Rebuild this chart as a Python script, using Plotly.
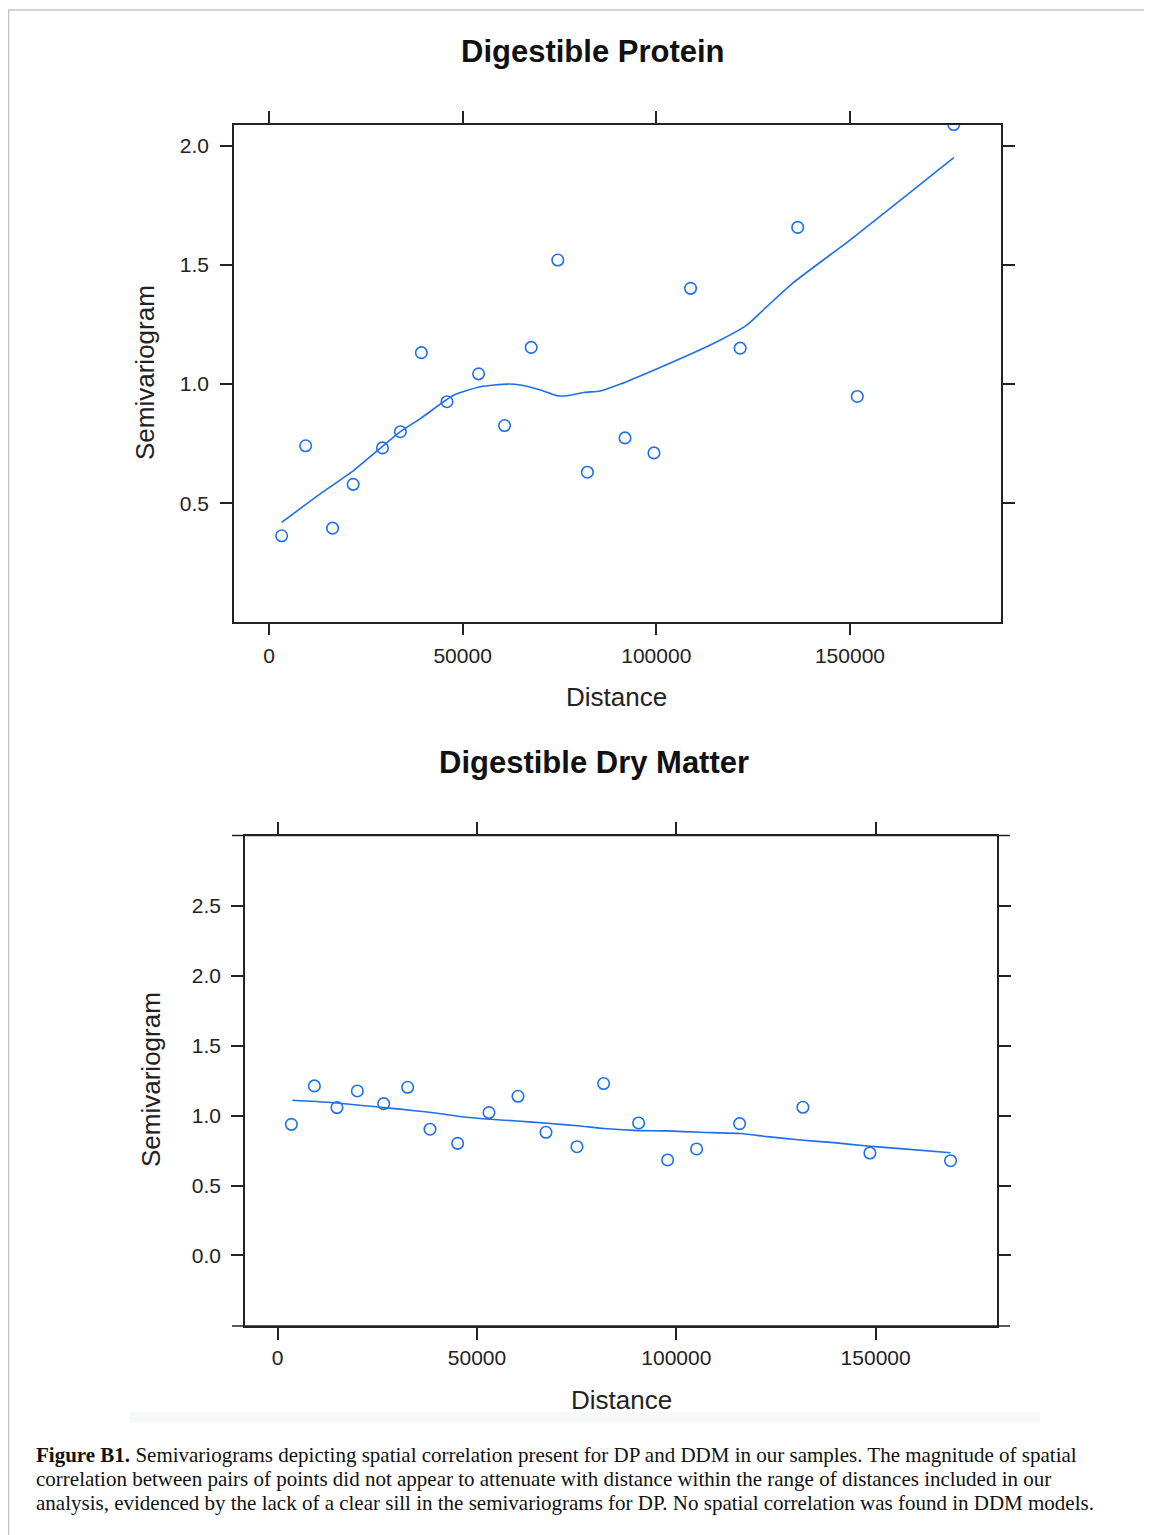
import plotly.graph_objects as go

# ---------------- data ----------------
dp_dist = [3273, 9459, 16418, 21735, 29296, 33935, 39347, 45962, 54124, 60825,
           67698, 74570, 82216, 91924, 99398, 108849, 121649, 136512, 151890, 176804]
dp_gamma = [0.363, 0.741, 0.395, 0.579, 0.732, 0.800, 1.132, 0.926, 1.043, 0.826,
            1.154, 1.521, 0.630, 0.774, 0.711, 1.402, 1.151, 1.658, 0.948, 2.09]
dp_fit_dist = [3273, 13402, 21993, 33935, 39175, 47766, 54639, 61500, 64948, 70103,
               74400, 76976, 81270, 85567, 90722, 98454, 107903, 115636, 123368,
               128522, 135395, 150000, 162887, 176804]
dp_fit_gamma = [0.419, 0.541, 0.639, 0.800, 0.856, 0.954, 0.989, 1.000, 0.996, 0.975,
                0.951, 0.951, 0.965, 0.971, 1.000, 1.052, 1.119, 1.178, 1.248,
                1.325, 1.426, 1.605, 1.770, 1.951]

ddm_dist = [3436, 9205, 14873, 19982, 26586, 32606, 38205, 45147, 53007, 60283,
            67306, 75077, 81766, 90544, 97818, 105091, 115877, 131757, 148561, 168797]
ddm_gamma = [0.938, 1.213, 1.058, 1.177, 1.086, 1.203, 0.903, 0.802, 1.022, 1.139,
             0.881, 0.778, 1.230, 0.948, 0.683, 0.762, 0.943, 1.060, 0.733, 0.678]
ddm_fit_dist = [3687, 13293, 26662, 35022, 40038, 46727, 53423, 60110, 67645, 75998,
                81850, 89366, 97743, 106104, 116136, 122824, 131184, 139545, 147905,
                156266, 168797]
ddm_fit_gamma = [1.110, 1.094, 1.058, 1.034, 1.017, 0.991, 0.974, 0.962, 0.946, 0.926,
                 0.908, 0.895, 0.891, 0.881, 0.872, 0.850, 0.826, 0.807, 0.783,
                 0.764, 0.735]

x_ticks = [0, 50000, 100000, 150000]
x_tick_labels = ["0", "50000", "100000", "150000"]
dp_y_ticks = [0.5, 1.0, 1.5, 2.0]
dp_y_tick_labels = ["0.5", "1.0", "1.5", "2.0"]
ddm_y_ticks = [0.0, 0.5, 1.0, 1.5, 2.0, 2.5]
ddm_y_tick_labels = ["0.0", "0.5", "1.0", "1.5", "2.0", "2.5"]

titles = ["Digestible Protein", "Digestible Dry Matter"]
caption_lines = [
    "<b>Figure B1.</b> Semivariograms depicting spatial correlation present for DP and DDM in our samples. The magnitude of spatial",
    "correlation between pairs of points did not appear to attenuate with distance within the range of distances included in our",
    "analysis, evidenced by the lack of a clear sill in the semivariograms for DP. No spatial correlation was found in DDM models.",
]

# ---------------- layout helpers ----------------
OFF = 8  # page body margin
W, H = 1144, 1527
def px(x):
    return (x - OFF) / W
def py(y):
    return 1 - (y - OFF) / H

BLUE = "#1f6fe8"
AXC = "#222222"
SANS = "Liberation Sans, Arial, sans-serif"

fig = go.Figure()

mk = dict(symbol="circle-open", size=11.5, color=BLUE, line=dict(width=1.6, color=BLUE))
fig.add_trace(go.Scatter(x=dp_dist, y=dp_gamma, mode="markers", marker=mk,
                         xaxis="x", yaxis="y", showlegend=False))
fig.add_trace(go.Scatter(x=dp_fit_dist, y=dp_fit_gamma, mode="lines",
                         line=dict(color=BLUE, width=1.6, shape="spline", smoothing=0.6),
                         xaxis="x", yaxis="y", showlegend=False))
fig.add_trace(go.Scatter(x=ddm_dist, y=ddm_gamma, mode="markers", marker=mk,
                         xaxis="x2", yaxis="y2", showlegend=False))
fig.add_trace(go.Scatter(x=ddm_fit_dist, y=ddm_fit_gamma, mode="lines",
                         line=dict(color=BLUE, width=1.6, shape="spline", smoothing=0.6),
                         xaxis="x2", yaxis="y2", showlegend=False))

axis_common = dict(showgrid=False, zeroline=False, showline=True, linecolor=AXC,
                   linewidth=1.6, mirror="ticks", ticks="outside", ticklen=12,
                   tickwidth=1.6, tickcolor=AXC,
                   tickfont=dict(family=SANS, size=21, color=AXC))

fig.update_layout(
    width=W, height=H, margin=dict(l=0, r=0, t=0, b=0),
    paper_bgcolor="white", plot_bgcolor="white",
    xaxis=dict(domain=[px(234), px(1001)], range=[-9030, 189000], anchor="y",
               tickvals=x_ticks, ticktext=x_tick_labels, ticklabelstandoff=2,
               **axis_common),
    yaxis=dict(domain=[py(621.5), py(125)], range=[0.003, 2.088], anchor="x",
               tickvals=dp_y_ticks, ticktext=dp_y_tick_labels, ticklabelstandoff=7,
               **axis_common),
    xaxis2=dict(domain=[px(245), px(997)], range=[-8200, 180450], anchor="y2",
                tickvals=x_ticks, ticktext=x_tick_labels, ticklabelstandoff=0,
                **axis_common),
    yaxis2=dict(domain=[py(1326), py(835.5)], range=[-0.505, 3.005], anchor="x2",
                tickvals=ddm_y_ticks, ticktext=ddm_y_tick_labels, ticklabelstandoff=6,
                **axis_common),
)

ann = []
ann.append(dict(text=f"<b>{titles[0]}</b>", x=px(593), y=py(52), xref="paper", yref="paper",
                showarrow=False, xanchor="center", yanchor="middle",
                font=dict(family=SANS, size=31, color="#111")))
ann.append(dict(text=f"<b>{titles[1]}</b>", x=px(594), y=py(763), xref="paper", yref="paper",
                showarrow=False, xanchor="center", yanchor="middle",
                font=dict(family=SANS, size=31, color="#111")))
for (xx, yy) in [(617, 697), (621, 1400)]:
    ann.append(dict(text="Distance", x=px(xx), y=py(yy), xref="paper", yref="paper",
                    showarrow=False, xanchor="center", yanchor="middle",
                    font=dict(family=SANS, size=26, color="#222")))
for (xx, yy) in [(145, 373), (151, 1080)]:
    ann.append(dict(text="Semivariogram", x=px(xx), y=py(yy), xref="paper", yref="paper",
                    showarrow=False, xanchor="center", yanchor="middle", textangle=-90,
                    font=dict(family=SANS, size=26, color="#222")))
for i, line in enumerate(caption_lines):
    ann.append(dict(text=line, x=px(34), y=py(1455 + 24 * i), xref="paper", yref="paper",
                    showarrow=False, xanchor="left", yanchor="middle", align="left",
                    font=dict(family="Liberation Serif, Times New Roman, serif", size=21,
                              color="#111")))
fig.update_layout(annotations=ann)

shapes = [
    # page border
    dict(type="line", xref="paper", yref="paper", x0=px(8), x1=px(1160), y0=py(10), y1=py(10),
         line=dict(color="#c4c4c4", width=1.5)),
    dict(type="line", xref="paper", yref="paper", x0=px(8.5), x1=px(8.5), y0=py(10), y1=py(1540),
         line=dict(color="#c4c4c4", width=1.5)),
    # faint band at bottom of the lower image
    dict(type="rect", xref="paper", yref="paper", x0=px(130), x1=px(1040), y0=py(1423), y1=py(1412),
         fillcolor="#f7f8f8", line=dict(width=0), layer="below"),
    # extended horizontal frame lines of the lower panel
    dict(type="line", xref="paper", yref="paper", x0=px(232), x1=px(1010), y0=py(835.5), y1=py(835.5),
         line=dict(color=AXC, width=1.6)),
    dict(type="line", xref="paper", yref="paper", x0=px(232), x1=px(1010), y0=py(1326), y1=py(1326),
         line=dict(color=AXC, width=1.6)),
]
fig.update_layout(shapes=shapes)

fig.write_html("out.html")
